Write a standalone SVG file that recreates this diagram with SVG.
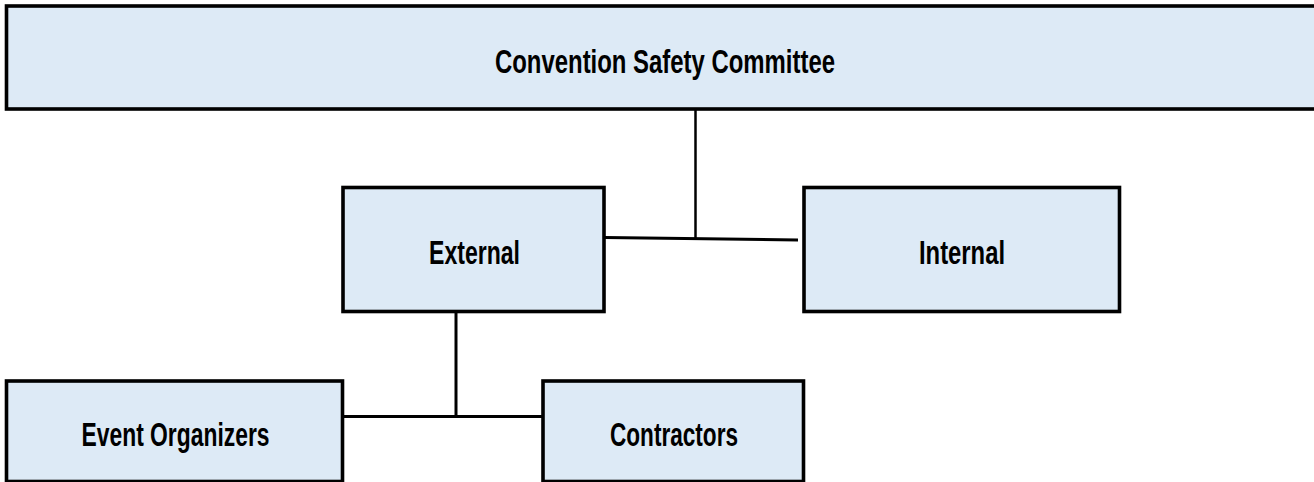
<svg xmlns="http://www.w3.org/2000/svg" width="1314" height="482" viewBox="0 0 1314 482">
<style>
.box{fill:#DDEAF6;stroke:#000;stroke-width:3.6}
.lbl{font-family:"Liberation Sans",Arial,sans-serif;font-weight:bold;font-size:34px;fill:#000;text-anchor:middle}
.con{stroke:#000;stroke-width:3;fill:none}
</style>
<rect width="1314" height="482" fill="#fff"/>
<g id="connectors">
<line class="con" x1="695.5" y1="104" x2="695.5" y2="238.5" style="stroke-width:2.5"/>
<line class="con" x1="605" y1="237.5" x2="798" y2="240"/>
<line class="con" x1="456" y1="313" x2="456" y2="417"/>
<line class="con" x1="344" y1="416.5" x2="542" y2="416.5"/>
</g>
<g id="committee">
<rect class="box" x="6.5" y="6" width="1312" height="103"/>
<text class="lbl" x="665" y="72.5" textLength="340" lengthAdjust="spacingAndGlyphs">Convention Safety Committee</text>
</g>
<g id="external">
<rect class="box" x="343" y="187.5" width="261" height="124"/>
<text class="lbl" x="474.5" y="263.5" textLength="91" lengthAdjust="spacingAndGlyphs">External</text>
</g>
<g id="internal">
<rect class="box" x="804" y="187.5" width="315.5" height="124"/>
<text class="lbl" x="962" y="263.5" textLength="86" lengthAdjust="spacingAndGlyphs">Internal</text>
</g>
<g id="event-organizers">
<rect class="box" x="6.5" y="381" width="336" height="100.5"/>
<text class="lbl" x="175.5" y="446" textLength="188" lengthAdjust="spacingAndGlyphs">Event Organizers</text>
</g>
<g id="contractors">
<rect class="box" x="543" y="381" width="260.5" height="100.5"/>
<text class="lbl" x="674" y="446" textLength="128" lengthAdjust="spacingAndGlyphs">Contractors</text>
</g>
</svg>
